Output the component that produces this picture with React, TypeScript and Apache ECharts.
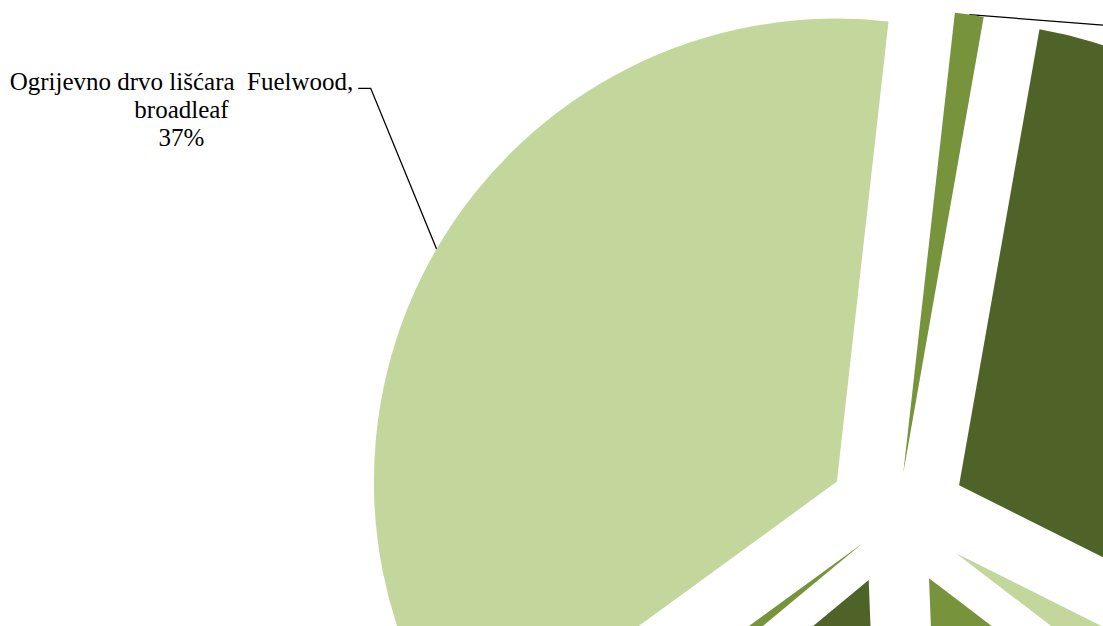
import React, { useEffect, useRef } from "react";
import * as echarts from "echarts";

// ---- data (shares in %) ----
const categories = [
  "Celulozno drvo četinjača  Pulpwood, coniferous",
  "Trupci lišćara  Logs, broadleaf",
  "Ogrijevno drvo četinjača  Fuelwood, coniferous",
  "Celulozno drvo lišćara  Pulpwood, broadleaf",
  "Trupci četinjača  Logs, coniferous",
  "Ostalo drvo  Other wood",
  "Ogrijevno drvo lišćara  Fuelwood, broadleaf",
];
const shares = [1.0, 29.6, 3.0, 14.0, 14.6, 1.0, 36.8];

// ---- styles / layout ----
const sliceColors = ["#77933C", "#4F6228", "#C3D69B", "#77933C", "#4F6228", "#77933C", "#C3D69B"];
const explodePx = [44, 69.5, 69.5, 69.5, 69.5, 44, 69.5];
const PIE_CX = 897;
const PIE_CY = 516.5;
const PIE_R = 463;
const START_ANGLE = 83.6;
const MAIN_LABEL = 6;
const TOP_LINE = 0;

const total = shares.reduce((a, b) => a + b, 0);

function sliceCenter(i: number): number[] {
  const cum = shares.slice(0, i).reduce((a, b) => a + b, 0);
  const a0 = START_ANGLE - (360 * cum) / total;
  const a1 = a0 - (360 * shares[i]) / total;
  const mid = (((a0 + a1) / 2) * Math.PI) / 180;
  const d = explodePx[i];
  return [PIE_CX + d * Math.cos(mid), PIE_CY - d * Math.sin(mid)];
}

function buildSeries(i: number) {
  const labelled = i === MAIN_LABEL || i === TOP_LINE;
  return {
    type: "pie",
    silent: true,
    startAngle: START_ANGLE,
    clockwise: true,
    center: sliceCenter(i),
    radius: [0, PIE_R],
    avoidLabelOverlap: false,
    itemStyle: { borderWidth: 0 },
    label: {
      show: false,
      position: "outside",
      fontFamily: "Liberation Serif",
      fontSize: 25,
      lineHeight: 28,
      color: "#000",
      align: "center",
      formatter: (p: any) =>
        i === MAIN_LABEL
          ? String(p.name).replace(", ", ",\n") + "\n" + Math.round(p.percent) + "%"
          : "",
    },
    labelLine: { show: false, lineStyle: { color: "#000", width: 1.3 } },
    labelLayout: (params: any) => {
      if (params.dataIndex !== i || !labelled) return {};
      const p0 = params.labelLinePoints ? params.labelLinePoints[0] : [0, 0];
      if (i === MAIN_LABEL) {
        return {
          x: 181.5,
          y: 109.5,
          align: "center",
          verticalAlign: "middle",
          labelLinePoints: [p0, [370.7, 88.3], [358.3, 88.3]],
        };
      }
      return {
        x: 1300,
        y: 40,
        labelLinePoints: [p0, [1160, 29.5], [1175, 29.5]],
      };
    },
    data: categories.map((name, j) => ({
      name,
      value: shares[j],
      itemStyle: { color: j === i ? sliceColors[j] : "rgba(0,0,0,0)" },
      label: { show: j === i && labelled },
      labelLine: { show: j === i && labelled },
    })),
  };
}

export default function App() {
  const ref = useRef<HTMLDivElement>(null);
  useEffect(() => {
    if (!ref.current) return;
    const chart = echarts.init(ref.current, undefined, { renderer: "svg" });
    chart.setOption({
      animation: false,
      backgroundColor: "#ffffff",
      series: shares.map((_, i) => buildSeries(i)),
    });
    return () => chart.dispose();
  }, []);
  return (
    <div
      ref={ref}
      style={{ position: "fixed", left: 0, top: 0, width: 1103, height: 626, background: "#fff" }}
    />
  );
}
